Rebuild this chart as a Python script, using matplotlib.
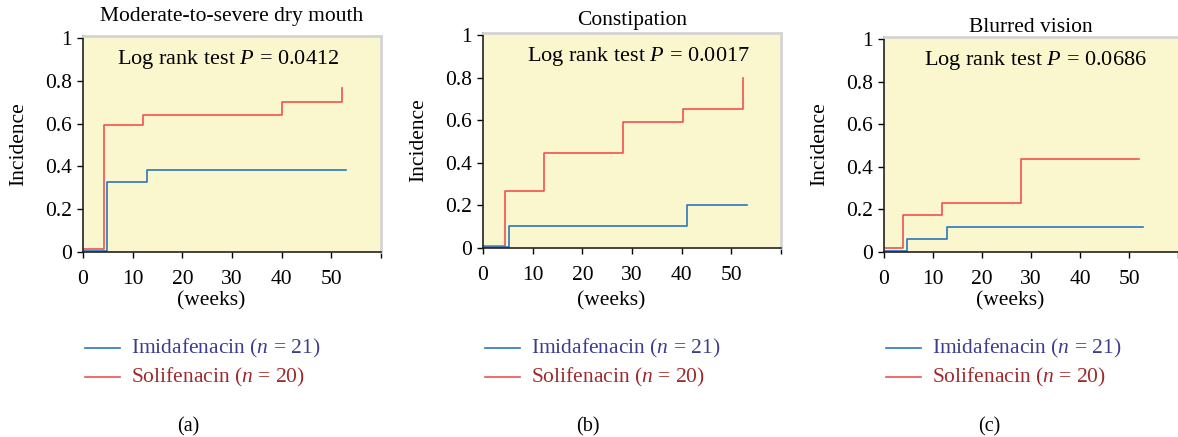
import numpy as np
import matplotlib
matplotlib.use("Agg")
import matplotlib.pyplot as plt

plt.rcParams['font.family'] = ['Liberation Serif', 'DejaVu Serif']
plt.rcParams['mathtext.fontset'] = 'custom'
plt.rcParams['mathtext.it'] = 'Liberation Serif:italic'
plt.rcParams['mathtext.rm'] = 'Liberation Serif'

titles = ['Moderate-to-severe dry mouth', 'Constipation', 'Blurred vision']
p_values = ['0.0412', '0.0017', '0.0686']
panel_tags = ['(a)', '(b)', '(c)']

# step curves (weeks, incidence)
imi_t = [[0, 4.8, 12.9, 53.0], [0, 5.2, 41.1, 53.2], [0, 4.7, 12.8, 52.9]]
imi_y = [[0.005, 0.327, 0.383, 0.383], [0.005, 0.105, 0.202, 0.202], [0.003, 0.059, 0.116, 0.116]]
sol_t = [[0, 4.2, 12.1, 40.1, 52.1], [0, 4.5, 12.3, 28.2, 40.3, 52.3], [0, 3.9, 11.9, 27.9, 52.1]]
sol_y = [[0.012, 0.592, 0.642, 0.702, 0.766], [0.011, 0.269, 0.447, 0.590, 0.652, 0.797], [0.017, 0.172, 0.230, 0.436, 0.436]]

imi_label = r'Imidafenacin ($n$ = 21)'
sol_label = r'Solifenacin ($n$ = 20)'

W, H = 1178, 437
fig = plt.figure(figsize=(W / 100, H / 100), dpi=100)

# axes boxes in pixels: left, right, top, bottom
boxes = [(83, 381, 36, 252), (483, 781, 33, 248), (884, 1178, 37, 252)]
title_pads = [11, 6, 3]
text_x = [0.114, 0.148, 0.136]

blue = '#2b77bd'
red = '#f05252'
bg = '#faf6cd'

for i in range(3):
    l, r, t, b = boxes[i]
    ax = fig.add_axes([l / W, (H - b) / H, (r - l) / W, (b - t) / H])
    ax.set_facecolor(bg)
    ax.step(sol_t[i], sol_y[i], where='post', color=red, lw=1.2)
    ax.step(imi_t[i], imi_y[i], where='post', color=blue, lw=1.2)
    ax.set_xlim(0, 60)
    ax.set_ylim(0, 1.01)
    ax.set_xticks([0, 10, 20, 30, 40, 50, 60])
    ax.set_xticklabels(['0', '10', '20', '30', '40', '50', ''])
    ax.set_yticks([0, 0.2, 0.4, 0.6, 0.8, 1])
    ax.set_yticklabels(['0', '0.2', '0.4', '0.6', '0.8', '1'])
    ax.tick_params(labelsize=15.5, length=4, width=1, colors='black')
    ax.tick_params(axis='x', pad=9)
    ax.tick_params(axis='y', pad=4)
    for s in ['left', 'bottom']:
        ax.spines[s].set_color('#222222')
        ax.spines[s].set_linewidth(1.2)
    for s in ['top', 'right']:
        ax.spines[s].set_color('#d4d4d4')
        ax.spines[s].set_linewidth(2)
    if i == 2:
        ax.spines['right'].set_visible(False)
    ax.set_title(titles[i], fontsize=15.5, pad=title_pads[i])
    ax.set_ylabel('Incidence', fontsize=15.5, labelpad=12)
    ax.text(text_x[i], 0.89, r'Log rank test $P$ = ' + p_values[i], transform=ax.transAxes,
            ha='left', va='center', fontsize=16)

    # x label "(weeks)"
    cx = l + 0.43 * (r - l)
    fig.text(cx / W, 1 - 301 / H, '(weeks)', ha='center', va='center', fontsize=15.5)

    # legend
    x0 = l + 2
    for j, (lab, lc, tc) in enumerate([(imi_label, blue, '#3d3d8f'), (sol_label, red, '#9e2a2b')]):
        yy = 1 - (348 + 29 * j) / H
        fig.add_artist(plt.Line2D([x0 / W, (x0 + 35) / W], [yy, yy], color=lc, lw=1.2))
        fig.text((x0 + 46) / W, yy, lab, color=tc, ha='left', va='center', fontsize=15.5)

    fig.text((l + 105) / W, 1 - 427 / H, panel_tags[i], ha='center', va='center', fontsize=14.5)

fig.savefig('out.png', dpi=100)
